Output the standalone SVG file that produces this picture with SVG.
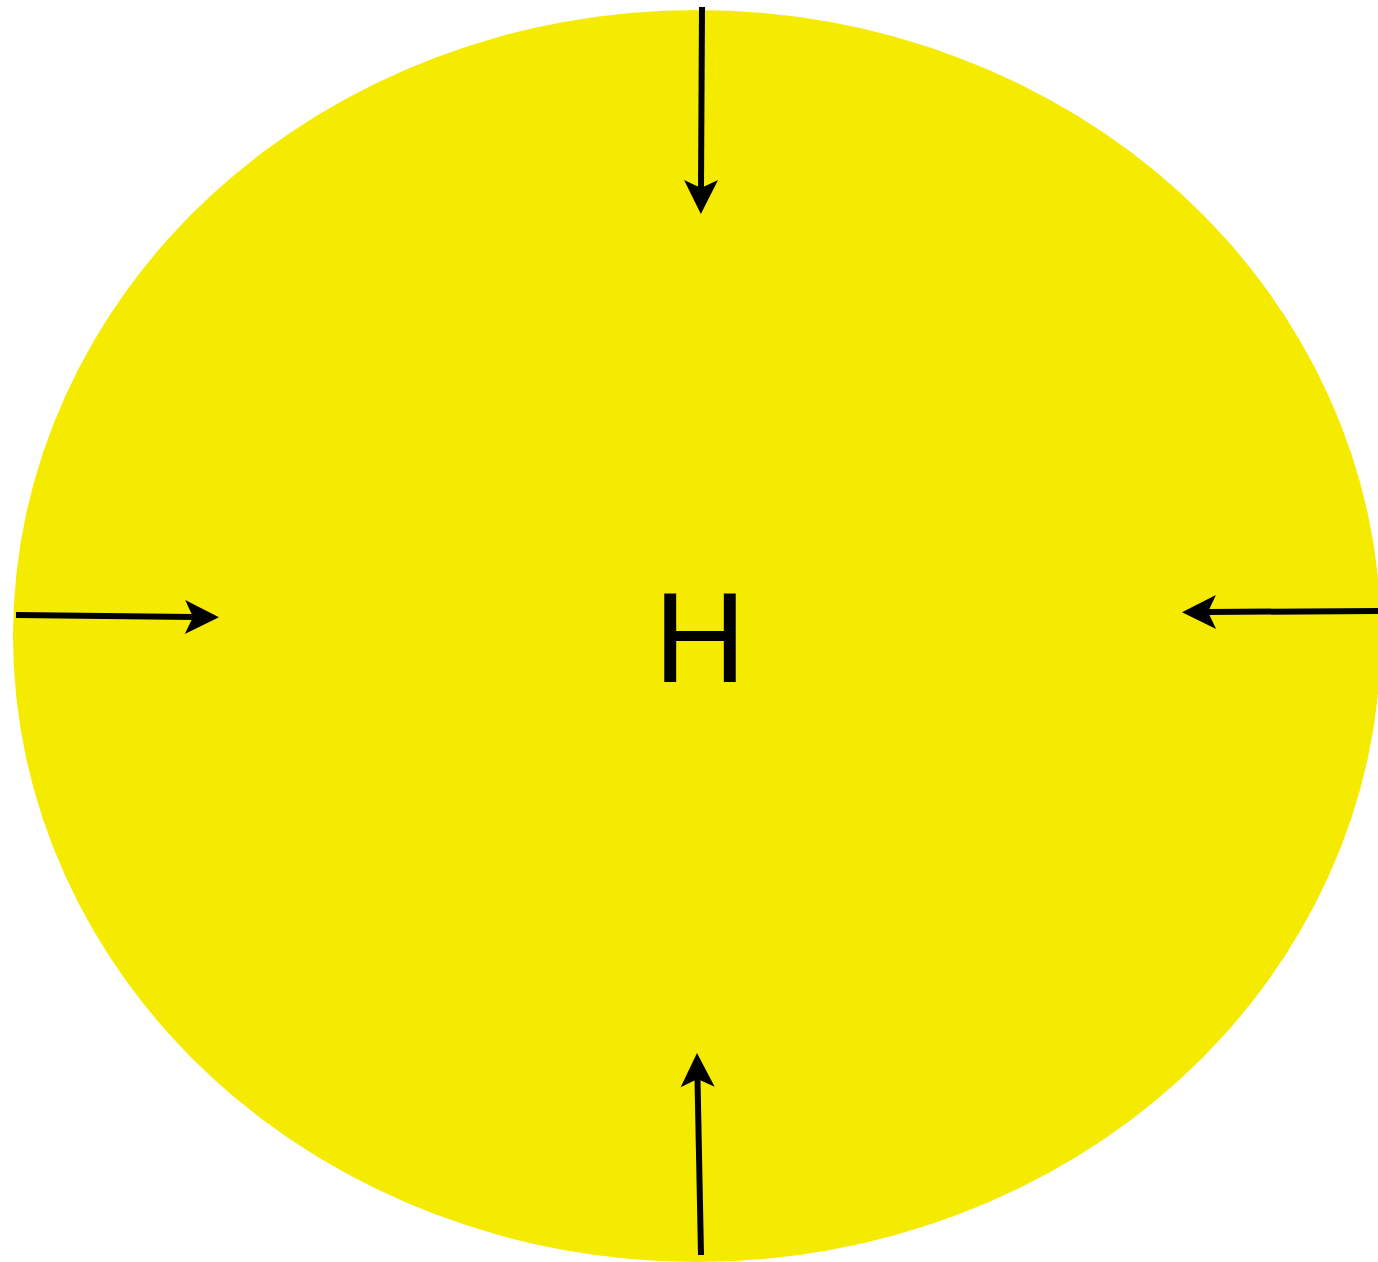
<svg xmlns="http://www.w3.org/2000/svg" width="1378" height="1262" viewBox="0 0 1378 1262">
  <style>
    .node { fill: #f5eb00; stroke: none; }
    .label { font-family: "Liberation Sans", Arial, sans-serif; font-size: 128px; fill: #000; }
    .conn { stroke: #000; stroke-width: 6; fill: none; marker-end: url(#arrow); }
  </style>
  <defs>
    <marker id="arrow" markerUnits="userSpaceOnUse" viewBox="-10 -18 38 36" refX="0" refY="0" markerWidth="38" markerHeight="36" orient="auto" overflow="visible">
      <path d="M26,0 L-8,-17 L0,0 L-8,17 Z" fill="#000"/>
    </marker>
  </defs>
  <g id="node-H">
    <ellipse class="node" cx="697" cy="636" rx="684" ry="626"/>
    <text class="label" x="700" y="682" text-anchor="middle">H</text>
  </g>
  <g id="connectors">
    <line class="conn" x1="702" y1="7" x2="701" y2="188"/>
    <line class="conn" x1="16" y1="615" x2="193" y2="617"/>
    <line class="conn" x1="1378" y1="611" x2="1208" y2="612"/>
    <line class="conn" x1="701" y1="1255" x2="697.5" y2="1079"/>
  </g>
</svg>
